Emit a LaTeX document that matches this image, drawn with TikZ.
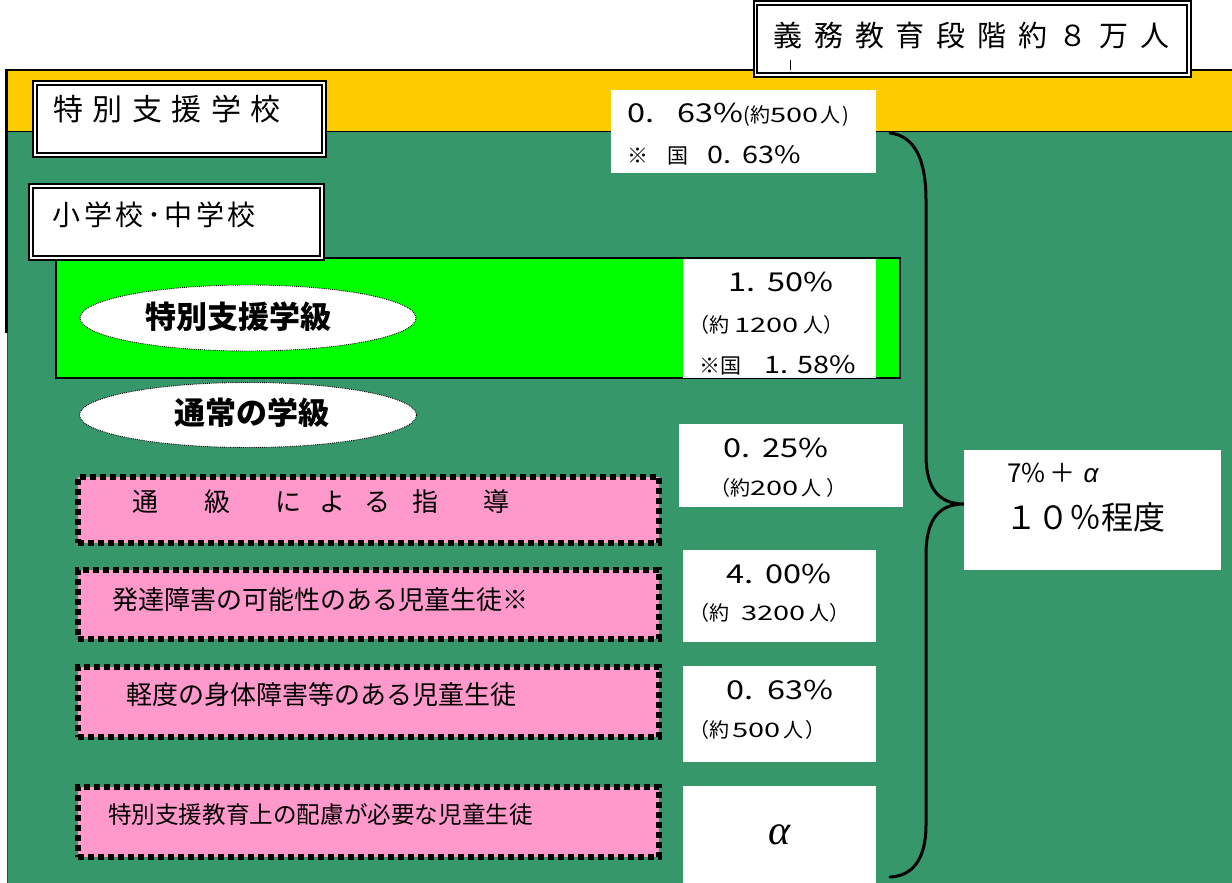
\documentclass[tikz,border=0pt]{standalone}
\usepackage{fontspec}
\usepackage{graphicx}
\setmainfont{Noto Sans CJK JP}
\newfontfamily\serifgr{Liberation Serif}
\newfontfamily\sansgr{Liberation Sans}
\usetikzlibrary{shapes.geometric}
\definecolor{bggreen}{RGB}{54,152,106}
\definecolor{bandyellow}{RGB}{255,204,0}
\definecolor{brightgreen}{RGB}{0,255,0}
\definecolor{pinkfill}{RGB}{255,153,204}
\newcommand\fs[1]{\fontsize{#1}{#1}\selectfont}
\newcommand\widen[2][1.45]{\scalebox{#1}[1]{#2}}
\newcommand\bignum[1]{{\fs{26}\widen[1.25]{#1}}}
\newcommand\midnum[1]{{\fs{24}\widen[1.2]{#1}}}
\newcommand\smallnum[1]{{\fs{20}\widen[1.45]{#1}}}
\tikzset{
  dbox/.style={draw=black, line width=2pt, double=white, double distance=1.5pt, fill=white, inner sep=0pt},
  wbox/.style={fill=white, inner sep=0pt},
  pbox/.style={draw=black, fill=pinkfill, line width=6pt, dash pattern=on 6pt off 4pt, inner sep=0pt},
  oval/.style={ellipse, draw=black, fill=white, densely dotted, line width=0.9pt, inner sep=0pt},
  txt/.style={inner sep=0pt, anchor=center, text=black},
  ltxt/.style={inner sep=0pt, anchor=west, text=black},
}
\begin{document}
\begin{tikzpicture}[x=1pt,y=-1pt]
\useasboundingbox (0,0) rectangle (1232,883);
\fill[white] (0,0) rectangle (1232,883);
% background bands
\fill[bggreen] (8,131) rectangle (1232,883);
\fill[bandyellow] (8,70) rectangle (1232,131);
\draw[line width=1.2pt] (7,70) -- (1232,70);
\draw[line width=1pt] (8,131) -- (1232,131);
\draw[line width=3pt] (6.5,69.4) -- (6.5,333);
\draw[line width=1pt, black!75] (7.5,333) -- (7.5,883);

% title box
\node[dbox, minimum width=433.5, minimum height=72] (total) at (972.25,39) {};
\node[txt] (totaltxt) at (971.5,35) {\fs{29}義\hspace{11.7pt}務\hspace{11.7pt}教\hspace{11.7pt}育\hspace{11.7pt}段\hspace{11.7pt}階\hspace{11.7pt}約\hspace{11.7pt}８\hspace{11.7pt}万\hspace{11.7pt}人};
\draw[line width=1pt] (790,60) -- (790,70);

% special support school
\node[dbox, minimum width=289, minimum height=72] (school) at (179.5,119) {};
\node[txt] (schooltxt) at (167,109) {\fs{30}特\hspace{9.4pt}別\hspace{9.4pt}支\hspace{9.4pt}援\hspace{9.4pt}学\hspace{9.4pt}校};
\node[wbox, minimum width=265, minimum height=83] (schoolval) at (743.5,131.5) {};
\node[ltxt] (schoolv1) at (627,115) {\bignum{0.}\hspace{23pt}\bignum{63\%}{\fs{20}(約\smallnum{500}\hspace{2pt}人\hspace{2pt})}};
\node[ltxt] (schoolv2) at (627,155) {{\fs{21}※\hspace{19pt}国\hspace{19pt}}\midnum{0.}\hspace{11pt}\midnum{63\%}};

% bright green class area
\node[draw=black, line width=1.5pt, fill=brightgreen, minimum width=844, minimum height=120, inner sep=0pt] (classarea) at (478,318) {};
\node[wbox, minimum width=193, minimum height=119] (classval) at (779.5,318) {};
\node[ltxt] (classv1) at (728,282) {\bignum{1.}\hspace{12pt}\bignum{50\%}};
\node[ltxt] (classv2) at (689,325) {\fs{20}（約\hspace{5pt}\smallnum{1200}\hspace{5pt}人）};
\node[ltxt] (classv3) at (699,365) {{\fs{21}※国\hspace{23pt}}\midnum{1.}\hspace{9pt}\midnum{58\%}};

% elementary / junior high box
\node[dbox, minimum width=291, minimum height=72] (shochu) at (176.5,222) {};
\node[txt] (shochutxt) at (154,215) {\fs{28}小\hspace{3.5pt}学\hspace{3.5pt}校\hspace{3.5pt}･\hspace{3.5pt}中\hspace{3.5pt}学\hspace{3.5pt}校};

% ellipses
\node[oval, minimum width=336, minimum height=66] (tokubetsu) at (248,318) {};
\node[txt] (tokubetsutxt) at (238,317) {\fs{31}\bfseries 特別支援学級};
\node[oval, minimum width=337, minimum height=65] (tsujo) at (248,415) {};
\node[txt] (tsujotxt) at (252,413) {\fs{31}\bfseries 通常の学級};

% pink boxes
\node[pbox, minimum width=581, minimum height=66] (tsukyu) at (368.5,510) {};
\node[txt] (tsukyutxt) at (321,502) {\fs{26}通\hspace{47pt}級\hspace{44pt}に\hspace{19pt}よ\hspace{19pt}る\hspace{22pt}指\hspace{45pt}導};
\node[pbox, minimum width=581, minimum height=69] (hattatsu) at (368.5,604.5) {};
\node[txt] (hattatsutxt) at (320.5,600) {\fs{26}発達障害の可能性のある児童生徒※};
\node[pbox, minimum width=581, minimum height=70] (keido) at (368.5,702) {};
\node[txt] (keidotxt) at (321,695) {\fs{26}軽度の身体障害等のある児童生徒};
\node[pbox, minimum width=581, minimum height=70] (hairyo) at (368.5,822) {};
\node[txt] (hairyotxt) at (320.5,815) {\fs{23.6}特別支援教育上の配慮が必要な児童生徒};

% value boxes
\node[wbox, minimum width=224, minimum height=83] (val1) at (791,465.5) {};
\node[ltxt] (val1a) at (723,448) {\bignum{0.}\hspace{12pt}\bignum{25\%}};
\node[ltxt] (val1b) at (710,488) {\fs{20}（約\smallnum{200}\hspace{3pt}人\hspace{5pt}）};
\node[wbox, minimum width=193, minimum height=92] (val2) at (779.5,596) {};
\node[ltxt] (val2a) at (726,574) {\bignum{4.}\hspace{12pt}\bignum{00\%}};
\node[ltxt] (val2b) at (689,613) {\fs{20}（約\hspace{12pt}\smallnum{3200}\hspace{4pt}人）};
\node[wbox, minimum width=193, minimum height=96] (val3) at (779.5,714) {};
\node[ltxt] (val3a) at (726,690) {\bignum{0.}\hspace{14pt}\bignum{63\%}};
\node[ltxt] (val3b) at (689,730) {\fs{20}（約\hspace{3pt}\smallnum{500}\hspace{3pt}人\hspace{2pt}）};
\node[wbox, minimum width=193, minimum height=97] (val4) at (779.5,834.5) {};
\node[txt] (val4a) at (780,835) {\serifgr\itshape\fs{42}α};

% total box
\node[wbox, minimum width=257, minimum height=120] (sum) at (1092.5,510) {};
\node[ltxt] (suma) at (1007,473) {\fs{26}7\%\hspace{4pt}＋\hspace{8pt}{\sansgr\itshape\fs{26}α}};
\node[ltxt] (sumb) at (1005,517) {\fs{32}１０％程度};

% brace
\draw[line width=3pt, line cap=round] (890,133) .. controls (915,136) and (926,160) .. (926,200) -- (926,455) .. controls (926,490) and (940,504) .. (964,504) .. controls (940,504) and (926,518) .. (926,555) -- (926,825) .. controls (926,860) and (912,876) .. (890,877);
\end{tikzpicture}
\end{document}
